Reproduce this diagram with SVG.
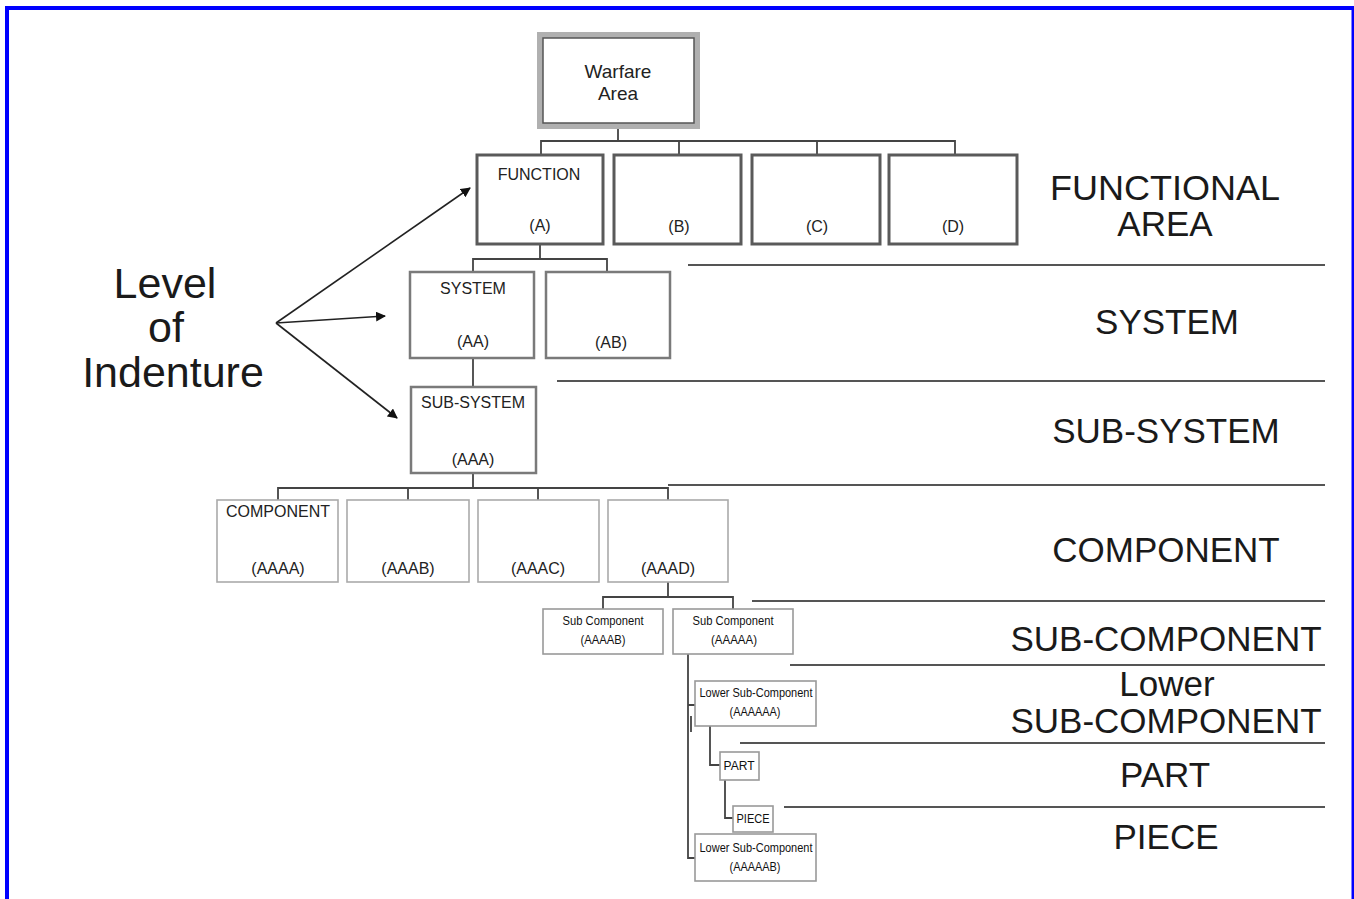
<svg xmlns="http://www.w3.org/2000/svg" width="1354" height="899" viewBox="0 0 1354 899">
  <defs>
    <marker id="ah" viewBox="0 0 10 10" refX="9" refY="5" markerWidth="10" markerHeight="10" markerUnits="userSpaceOnUse" orient="auto">
      <path d="M0,0 L10,5 L0,10 z" fill="#111"/>
    </marker>
  </defs>
  <style>
    text { font-family: "Liberation Sans", Arial, sans-serif; fill: #222; }
    .big { font-size: 35px; text-anchor: middle; fill: #1a1a1a; }
    .lvl { font-size: 43px; text-anchor: middle; fill: #1a1a1a; }
    .t16 { font-size: 16px; text-anchor: middle; }
    .t18 { font-size: 19px; text-anchor: middle; }
    .tiny { font-size: 12.5px; text-anchor: middle; fill: #111; }
    .bx1 { fill: #fff; stroke: #5a5a5a; stroke-width: 3; }
    .bx2 { fill: #fff; stroke: #7a7a7a; stroke-width: 2.5; }
    .bx3 { fill: #fff; stroke: #aaa; stroke-width: 1.6; }
    .bx4 { fill: #fff; stroke: #999; stroke-width: 1.6; }
    .con { fill: none; stroke: #444; stroke-width: 1.8; }
    .rule { stroke: #555; stroke-width: 2; }
    .arr { stroke: #222; stroke-width: 1.6; fill: none; }
  </style>

  <rect width="1354" height="899" fill="#fff"/>
  <!-- page frame -->
  <rect x="7" y="8" width="1346.5" height="1000" fill="none" stroke="#0000ff" stroke-width="4"/>

  <!-- level separator rules -->
  <g id="rules">
    <line class="rule" x1="688" y1="265" x2="1325" y2="265"/>
    <line class="rule" x1="557" y1="381" x2="1325" y2="381"/>
    <line class="rule" x1="668" y1="485" x2="1325" y2="485"/>
    <line class="rule" x1="752" y1="601" x2="1325" y2="601"/>
    <line class="rule" x1="790" y1="665" x2="1325" y2="665"/>
    <line class="rule" x1="740" y1="743" x2="1325" y2="743"/>
    <line class="rule" x1="784" y1="807" x2="1325" y2="807"/>
  </g>

  <!-- tree connectors -->
  <g id="connectors">
    <path class="con" d="M618,126 V141 M541,155 V141 H955 V155 M679,141 V155 M817,141 V155"/>
    <path class="con" d="M540,244 V259 M473,272 V259 H607 V272"/>
    <path class="con" d="M473,358 V387"/>
    <path class="con" d="M473,473 V488 M278,500 V488 H668 V500 M408,488 V500 M538,488 V500"/>
    <path class="con" d="M668,582 V597 M603,609 V597 H733 V609"/>
    <path class="con" d="M688,654 V858 H696 M688,705 H696"/>
    <path class="con" d="M691,716 V732" stroke-width="2.5"/>
    <path class="con" d="M710,726 V765 H720"/>
    <path class="con" d="M725,780 V818 H733"/>
    <!-- level of indenture pointers -->
    <path class="arr" d="M276,323 L470,188" marker-end="url(#ah)"/>
    <path class="arr" d="M276,323 L385,316" marker-end="url(#ah)"/>
    <path class="arr" d="M276,323 L397,418" marker-end="url(#ah)"/>
  </g>

  <g id="warfare-area">
    <rect x="540" y="35" width="157" height="91" fill="#fff" stroke="#b0b0b0" stroke-width="6"/>
    <rect x="543" y="38" width="151" height="85" fill="none" stroke="#555" stroke-width="1.5"/>
    <text class="t18" x="618" y="78">Warfare</text>
    <text class="t18" x="618" y="100">Area</text>
  </g>

  <g id="function-a">
    <rect class="bx1" x="477" y="155" width="126" height="89"/>
    <text class="t16" x="539" y="180">FUNCTION</text>
    <text class="t16" x="540" y="231">(A)</text>
  </g>
  <g id="function-b">
    <rect class="bx1" x="614" y="155" width="127" height="89"/>
    <text class="t16" x="679" y="232">(B)</text>
  </g>
  <g id="function-c">
    <rect class="bx1" x="752" y="155" width="128" height="89"/>
    <text class="t16" x="817" y="232">(C)</text>
  </g>
  <g id="function-d">
    <rect class="bx1" x="889" y="155" width="128" height="89"/>
    <text class="t16" x="953" y="232">(D)</text>
  </g>

  <g id="system-aa">
    <rect class="bx2" x="410" y="272" width="124" height="86"/>
    <text class="t16" x="473" y="294">SYSTEM</text>
    <text class="t16" x="473" y="347">(AA)</text>
  </g>
  <g id="system-ab">
    <rect class="bx2" x="546" y="272" width="124" height="86"/>
    <text class="t16" x="611" y="348">(AB)</text>
  </g>

  <g id="sub-system-aaa">
    <rect class="bx2" x="411" y="387" width="125" height="86"/>
    <text class="t16" x="473" y="408">SUB-SYSTEM</text>
    <text class="t16" x="473" y="465">(AAA)</text>
  </g>

  <g id="component-aaaa">
    <rect class="bx3" x="217" y="500" width="121" height="82"/>
    <text class="t16" x="278" y="517">COMPONENT</text>
    <text class="t16" x="278" y="574">(AAAA)</text>
  </g>
  <g id="component-aaab">
    <rect class="bx3" x="347" y="500" width="122" height="82"/>
    <text class="t16" x="408" y="574">(AAAB)</text>
  </g>
  <g id="component-aaac">
    <rect class="bx3" x="478" y="500" width="121" height="82"/>
    <text class="t16" x="538" y="574">(AAAC)</text>
  </g>
  <g id="component-aaad">
    <rect class="bx3" x="608" y="500" width="120" height="82"/>
    <text class="t16" x="668" y="574">(AAAD)</text>
  </g>

  <g id="sub-component-aaaab">
    <rect class="bx4" x="543" y="609" width="120" height="45"/>
    <text class="tiny" x="603" y="625" textLength="81" lengthAdjust="spacingAndGlyphs">Sub Component</text>
    <text class="tiny" x="603" y="644" textLength="45" lengthAdjust="spacingAndGlyphs">(AAAAB)</text>
  </g>
  <g id="sub-component-aaaaa">
    <rect class="bx4" x="673" y="609" width="120" height="45"/>
    <text class="tiny" x="733" y="625" textLength="81" lengthAdjust="spacingAndGlyphs">Sub Component</text>
    <text class="tiny" x="734" y="644" textLength="46" lengthAdjust="spacingAndGlyphs">(AAAAA)</text>
  </g>

  <g id="lower-sub-component-a">
    <rect class="bx4" x="695" y="681" width="121" height="45"/>
    <text class="tiny" x="756" y="697" textLength="113" lengthAdjust="spacingAndGlyphs">Lower Sub-Component</text>
    <text class="tiny" x="755" y="716" textLength="51" lengthAdjust="spacingAndGlyphs">(AAAAAA)</text>
  </g>

  <g id="part">
    <rect class="bx4" x="720" y="752" width="39" height="28"/>
    <text class="tiny" x="739" y="770" textLength="31" lengthAdjust="spacingAndGlyphs">PART</text>
  </g>

  <g id="piece">
    <rect class="bx4" x="733" y="806" width="40" height="26"/>
    <text class="tiny" x="753" y="823" textLength="33" lengthAdjust="spacingAndGlyphs">PIECE</text>
  </g>

  <g id="lower-sub-component-b">
    <rect class="bx4" x="695" y="834" width="121" height="47"/>
    <text class="tiny" x="756" y="852" textLength="113" lengthAdjust="spacingAndGlyphs">Lower Sub-Component</text>
    <text class="tiny" x="755" y="871" textLength="51" lengthAdjust="spacingAndGlyphs">(AAAAAB)</text>
  </g>

  <!-- level names -->
  <g id="level-labels">
    <text class="big" x="1165" y="200" textLength="230" lengthAdjust="spacingAndGlyphs">FUNCTIONAL</text>
    <text class="big" x="1165" y="236">AREA</text>
    <text class="big" x="1167" y="334">SYSTEM</text>
    <text class="big" x="1166" y="443">SUB-SYSTEM</text>
    <text class="big" x="1166" y="562">COMPONENT</text>
    <text class="big" x="1166" y="651">SUB-COMPONENT</text>
    <text class="big" x="1167" y="696">Lower</text>
    <text class="big" x="1166" y="733">SUB-COMPONENT</text>
    <text class="big" x="1165" y="787">PART</text>
    <text class="big" x="1166" y="849">PIECE</text>
  </g>

  <g id="level-of-indenture">
    <text class="lvl" x="165" y="298">Level</text>
    <text class="lvl" x="166" y="342">of</text>
    <text class="lvl" x="173" y="387">Indenture</text>
  </g>
</svg>
